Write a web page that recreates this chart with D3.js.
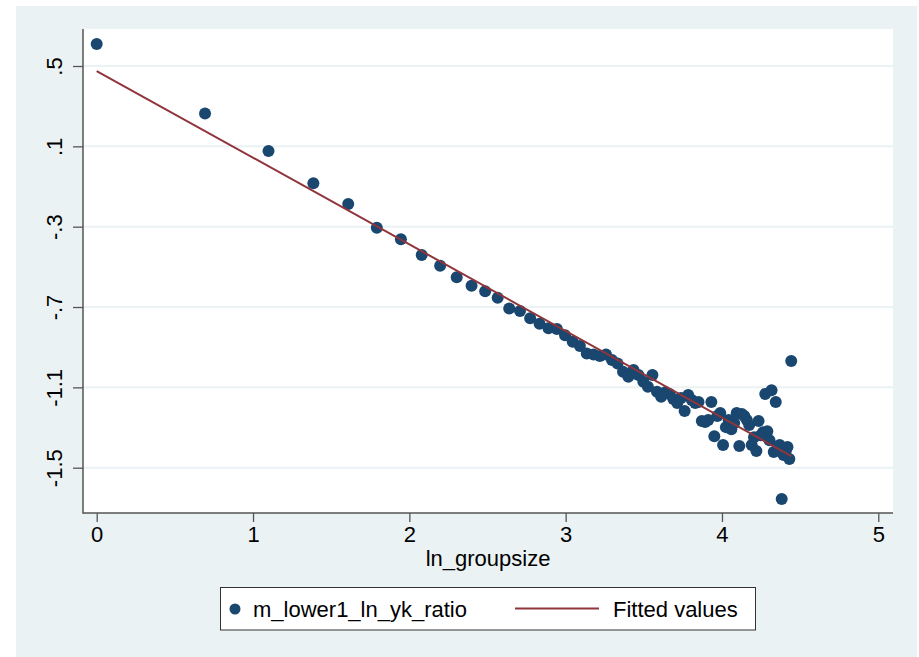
<!DOCTYPE html>
<html>
<head>
<meta charset="utf-8">
<script src="https://cdn.jsdelivr.net/npm/d3@7"></script>
<style>
  body { margin: 0; background: #fff; }
  text { font-family: "Liberation Sans", Arial, sans-serif; fill: #000; }
</style>
</head>
<body>
<script>
// ln_groupsize values (x) and the scatter series (y)
let lnGroupsize = [0, 0.693, 1.099, 1.386, 1.609, 1.792, 1.946, 2.079, 2.197, 2.303,
  2.398, 2.485, 2.565, 2.639, 2.708, 2.773, 2.833, 2.890, 2.944, 2.996,
  3.045, 3.091, 3.135, 3.178, 3.219, 3.258, 3.296, 3.332, 3.367, 3.401,
  3.434, 3.466, 3.497, 3.526, 3.555, 3.584, 3.611, 3.638, 3.664, 3.689,
  3.714, 3.738, 3.761, 3.784, 3.807, 3.829, 3.850, 3.871, 3.892, 3.912,
  3.932, 3.951, 3.970, 3.989, 4.007, 4.025, 4.043, 4.060, 4.078, 4.094,
  4.111, 4.127, 4.143, 4.159, 4.174, 4.190, 4.205, 4.220, 4.234, 4.248,
  4.263, 4.277, 4.290, 4.304, 4.317, 4.331, 4.344, 4.357, 4.369, 4.382,
  4.394, 4.407, 4.419, 4.431, 4.443];

let lnYkRatio = [0.610, 0.264, 0.077, -0.084, -0.187, -0.305, -0.363, -0.441, -0.494, -0.552,
  -0.594, -0.621, -0.654, -0.707, -0.720, -0.756, -0.783, -0.806, -0.810, -0.840,
  -0.873, -0.894, -0.931, -0.936, -0.944, -0.936, -0.964, -0.981, -1.022, -1.047,
  -1.014, -1.039, -1.072, -1.097, -1.039, -1.122, -1.147, -1.124, -1.133, -1.158,
  -1.178, -1.153, -1.218, -1.138, -1.163, -1.178, -1.173, -1.268, -1.273, -1.263,
  -1.173, -1.343, -1.243, -1.228, -1.387, -1.298, -1.263, -1.308, -1.278, -1.228,
  -1.392, -1.233, -1.243, -1.263, -1.288, -1.387, -1.348, -1.417, -1.268, -1.338,
  -1.323, -1.133, -1.318, -1.363, -1.114, -1.422, -1.173, -1.402, -1.387, -1.656,
  -1.437, -1.422, -1.397, -1.457, -0.969];

// fitted values line (two end points)
let fitX = [0, 4.443];
let fitY = [0.475, -1.442];

let xTicks = [0, 1, 2, 3, 4, 5];
let yTicks = [0.5, 0.1, -0.3, -0.7, -1.1, -1.5];
let yTickLabels = [".5", ".1", "-.3", "-.7", "-1.1", "-1.5"];

let seriesNames = ["m_lower1_ln_yk_ratio", "Fitted values"];

const width = 919;
const height = 657;
const navy = "#1a476f";
const maroon = "#90353b";
const bg = "#eaf2f3";
const axisColor = "#555";
const fontSize = 22;
const plot = { left: 83, right: 893, top: 29, bottom: 513 };

let svg = d3.select("body").append("svg")
    .attr("width", width)
    .attr("height", height);

// graph region
svg.append("rect")
    .attr("x", 16).attr("y", 6)
    .attr("width", 901).attr("height", 651)
    .attr("fill", bg);

// plot region
svg.append("rect")
    .attr("x", plot.left).attr("y", plot.top)
    .attr("width", plot.right - plot.left)
    .attr("height", plot.bottom - plot.top)
    .attr("fill", "#fff");

let x = d3.scaleLinear().domain([0, 5]).range([96.7, 878.3]);
let y = d3.scaleLinear().domain([0.5, -1.5]).range([66, 467.7]);

//grid lines
yTicks.forEach(t =>
  svg.append("line")
    .attr("x1", plot.left).attr("x2", plot.right)
    .attr("y1", y(t)).attr("y2", y(t))
    .attr("stroke", bg)
    .attr("stroke-width", 2)
);

//axes
let yAxis = d3.axisLeft(y)
    .tickValues(yTicks)
    .tickSize(10)
    .tickPadding(8)
    .tickFormat((d, i) => yTickLabels[i]);

let gy = svg.append("g")
    .attr("transform", `translate(${plot.left},0)`)
    .call(yAxis);
gy.select(".domain").remove();
gy.selectAll(".tick line").attr("stroke", axisColor).attr("stroke-width", 1.3);
gy.selectAll(".tick text")
    .attr("font-size", fontSize)
    .attr("font-family", "Liberation Sans, Arial, sans-serif")
    .attr("text-anchor", "middle")
    .attr("dy", null)
    .attr("x", null)
    .attr("transform", "translate(-21,0) rotate(-90)");

let xAxis = d3.axisBottom(x)
    .tickValues(xTicks)
    .tickSize(9)
    .tickPadding(4)
    .tickFormat(d3.format("d"));

let gx = svg.append("g")
    .attr("transform", `translate(0,${plot.bottom})`)
    .call(xAxis);
gx.select(".domain").remove();
gx.selectAll(".tick line").attr("stroke", axisColor).attr("stroke-width", 1.3);
gx.selectAll(".tick text")
    .attr("font-size", fontSize)
    .attr("font-family", "Liberation Sans, Arial, sans-serif");

// axis lines
svg.append("line")
    .attr("x1", plot.left).attr("x2", plot.left)
    .attr("y1", plot.top).attr("y2", plot.bottom + 0.7)
    .attr("stroke", axisColor).attr("stroke-width", 1.5);
svg.append("line")
    .attr("x1", plot.left).attr("x2", plot.right)
    .attr("y1", plot.bottom).attr("y2", plot.bottom)
    .attr("stroke", axisColor).attr("stroke-width", 1.5);

// axis title
svg.append("text")
    .attr("x", (plot.left + plot.right) / 2)
    .attr("y", 566)
    .attr("text-anchor", "middle")
    .attr("font-size", fontSize)
    .text("ln_groupsize");

//scatter
let points = lnGroupsize.map((g, i) => ({ x: g, y: lnYkRatio[i] }));
svg.append("g").selectAll("circle")
    .data(points)
    .join("circle")
    .attr("cx", d => x(d.x))
    .attr("cy", d => y(d.y))
    .attr("r", 6)
    .attr("fill", navy);

//fitted line
let line = d3.line()
    .x(d => x(d[0]))
    .y(d => y(d[1]));

svg.append("path")
    .datum(fitX.map((v, i) => [v, fitY[i]]))
    .attr("d", line)
    .attr("fill", "none")
    .attr("stroke", maroon)
    .attr("stroke-width", 2);

//legend
let legend = svg.append("g");
legend.append("rect")
    .attr("x", 220.5).attr("y", 587.5)
    .attr("width", 535).attr("height", 42.5)
    .attr("fill", "#fff")
    .attr("stroke", "#333")
    .attr("stroke-width", 1);
legend.append("circle")
    .attr("cx", 235).attr("cy", 609)
    .attr("r", 5.5)
    .attr("fill", navy);
legend.append("text")
    .attr("x", 253).attr("y", 617)
    .attr("font-size", fontSize)
    .text(seriesNames[0]);
legend.append("line")
    .attr("x1", 515).attr("x2", 599)
    .attr("y1", 608.5).attr("y2", 608.5)
    .attr("stroke", maroon)
    .attr("stroke-width", 2);
legend.append("text")
    .attr("x", 613).attr("y", 617)
    .attr("font-size", fontSize)
    .text(seriesNames[1]);
</script>
</body>
</html>
